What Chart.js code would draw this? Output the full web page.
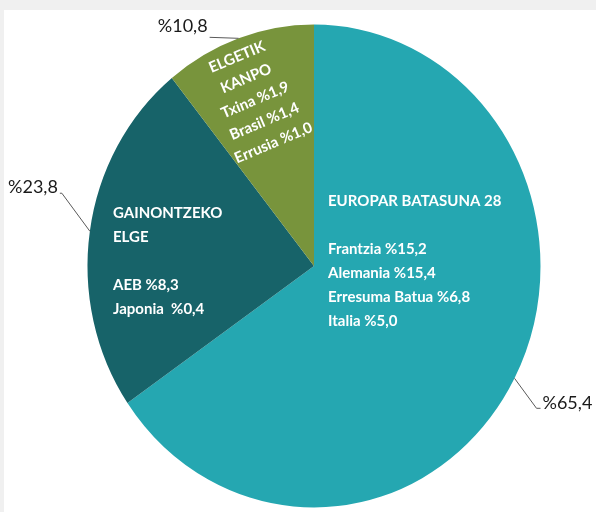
<!DOCTYPE html>
<html>
<head>
<meta charset="utf-8">
<script src="https://cdn.jsdelivr.net/npm/chart.js@4.4.1/dist/chart.umd.min.js"></script>
<style>
    html, body { margin: 0; padding: 0; background: #f0f0f0; }
    #frame { position: absolute; left: 4px; top: 10px; width: 592px; height: 502px; background: #ffffff; }
    #sharechart { position: absolute; left: 0; top: 0; }
</style>
</head>
<body>
<div id="frame"></div>
<canvas id="sharechart" width="596" height="512"></canvas>
<script>
"use strict";

/* chart data */
var categories = ['EUROPAR BATASUNA 28', 'GAINONTZEKO ELGE', 'ELGETIK KANPO'];
var shares = [65.4, 23.8, 10.8];
var shareLabels = ['%65,4', '%23,8', '%10,8'];
var detailLines = [
    ['EUROPAR BATASUNA 28', '', 'Frantzia %15,2', 'Alemania %15,4', 'Erresuma Batua %6,8', 'Italia %5,0'],
    ['GAINONTZEKO', 'ELGE', '', 'AEB %8,3', 'Japonia  %0,4'],
    ['ELGETIK', 'KANPO', 'Txina %1,9', 'Brasil %1,4', 'Errusia %1,0']
];
var sliceColors = ['#25a7b1', '#176369', '#78943c'];

/* the pie in the picture is a little taller than wide */
var ovalPie = {
    id: 'ovalPie',
    beforeDatasetsDraw: function (chart, args, opts) {
        var arc = chart.getDatasetMeta(0).data[0];
        var ctx = chart.ctx;
        ctx.save();
        ctx.translate(arc.x, arc.y);
        ctx.scale(1, opts.stretch);
        ctx.translate(-arc.x, -arc.y);
    },
    afterDatasetsDraw: function (chart) {
        chart.ctx.restore();
    }
};

/* text inside slices + percentage labels with leader lines */
var sliceText = {
    id: 'sliceText',
    afterDraw: function (chart, args, opts) {
        var ctx = chart.ctx;
        var stretch = chart.options.plugins.ovalPie.stretch;
        chart.getDatasetMeta(0).data.forEach(function (arc, i) {
            var r = arc.outerRadius;
            var mid = (arc.startAngle + arc.endAngle) / 2;

            /* leader line from slice edge */
            var lead = opts.leaders[i];
            var ex = arc.x + Math.cos(mid) * r;
            var ey = arc.y + Math.sin(mid) * r * stretch;
            var bx = ex + lead.dx;
            var by = ey + lead.dy;
            var hx = bx + lead.run;
            ctx.save();
            ctx.strokeStyle = '#595959';
            ctx.lineWidth = 1;
            ctx.beginPath();
            ctx.moveTo(ex, ey);
            ctx.lineTo(bx, by);
            ctx.lineTo(hx, by);
            ctx.stroke();
            ctx.fillStyle = '#1a1a1a';
            ctx.font = opts.outerFont;
            ctx.textBaseline = 'middle';
            ctx.textAlign = lead.dx > 0 ? 'left' : 'right';
            ctx.fillText(shareLabels[i], hx + (lead.dx > 0 ? 2 : -2), by + lead.textDy);
            ctx.restore();

            /* block of text inside the slice */
            var blk = opts.blocks[i];
            ctx.save();
            ctx.fillStyle = '#ffffff';
            ctx.font = opts.innerFont;
            ctx.textBaseline = 'middle';
            ctx.textAlign = blk.align;
            ctx.translate(arc.x + blk.dx, arc.y + blk.dy);
            ctx.rotate(blk.angle * Math.PI / 180);
            detailLines[i].forEach(function (line, j) {
                ctx.fillText(line, 0, j * blk.lineHeight);
            });
            ctx.restore();
        });
    }
};

var piechart = document.getElementById('sharechart').getContext('2d');

var piechartConfig = {
    type: 'pie',
    data: {
        labels: categories,
        datasets: [{
            data: shares,
            backgroundColor: sliceColors,
            borderWidth: 0,
            hoverOffset: 0
        }]
    },
    options: {
        responsive: false,
        animation: false,
        events: [],
        layout: {
            padding: { left: 87.5, right: 55.5, top: 39.5, bottom: 19.5 }
        },
        plugins: {
            legend: { display: false },
            tooltip: { enabled: false },
            ovalPie: { stretch: 1.066 },
            sliceText: {
                innerFont: 'bold 15px Lato',
                outerFont: '18px Lato',
                leaders: [
                    { dx: 22, dy: 30, run: 4, textDy: -5 },
                    { dx: -28, dy: -38, run: -2, textDy: -6 },
                    { dx: -29, dy: -1, run: 0, textDy: -11 }
                ],
                blocks: [
                    { dx: 14, dy: -65, align: 'left', angle: 0, lineHeight: 24 },
                    { dx: -201, dy: -53, align: 'left', angle: 0, lineHeight: 24 },
                    { dx: -77, dy: -209, align: 'center', angle: -23, lineHeight: 23.3 }
                ]
            }
        }
    },
    plugins: [ovalPie, sliceText]
};

var myPieChart = new Chart(piechart, piechartConfig);
</script>
</body>
</html>
